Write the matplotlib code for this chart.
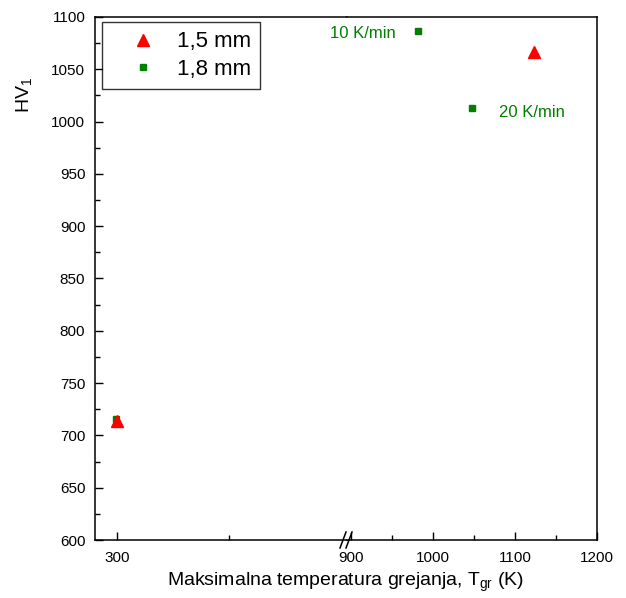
import matplotlib
matplotlib.use("Agg")
import matplotlib.pyplot as plt
from matplotlib.ticker import MultipleLocator, FixedLocator
from matplotlib.lines import Line2D

plt.rcParams['font.family'] = ['Liberation Sans', 'DejaVu Sans']

# Hardness HV1 vs. maximum heating temperature
temp_15 = [300, 1123]
hv_15 = [714, 1067]
temp_18 = [299, 982, 1048]
hv_18 = [716, 1087, 1013]
rate_labels = ["10 K/min", "20 K/min"]

W, H = 626, 598
fig = plt.figure(figsize=(W / 100, H / 100), dpi=100)

def fx(px):
    return px / W

def fy(py):
    return 1 - py / H

bottom, top = fy(540), fy(17)
ax_l = fig.add_axes([fx(95), bottom, fx(347) - fx(95), top - bottom])
ax_r = fig.add_axes([fx(347), bottom, fx(597) - fx(347), top - bottom])

red = '#ff0000'
green = '#007f00'

for ax in (ax_l, ax_r):
    ax.plot(temp_18, hv_18, ls='none', marker='s', ms=5, color=green,
            label='1,8 mm', zorder=3)
    ax.plot(temp_15, hv_15, ls='none', marker='^', ms=9, color=red,
            label='1,5 mm', zorder=4)
    ax.set_ylim(600, 1100)
    ax.tick_params(direction='in', which='major', length=6, width=1,
                   labelsize=11, top=False, right=False)
    ax.tick_params(direction='in', which='minor', length=3.5, width=1,
                   top=False, right=False)
    ax.tick_params(axis='x', which='major', pad=8)
    ax.tick_params(axis='y', which='major', pad=7)
    for s in ax.spines.values():
        s.set_linewidth(1.1)

ax_l.set_xlim(280.4, 505)
ax_r.set_xlim(895, 1200)

ax_l.xaxis.set_major_locator(FixedLocator([300]))
ax_l.xaxis.set_minor_locator(FixedLocator([400]))
ax_r.xaxis.set_major_locator(FixedLocator([900, 1000, 1100, 1200]))
ax_r.xaxis.set_minor_locator(FixedLocator([950, 1050, 1150]))

ax_l.yaxis.set_major_locator(MultipleLocator(50))
ax_l.yaxis.set_minor_locator(MultipleLocator(25))
ax_r.yaxis.set_major_locator(FixedLocator([]))
ax_r.yaxis.set_minor_locator(FixedLocator([]))

ax_l.spines['right'].set_visible(False)
ax_r.spines['left'].set_visible(False)

# Rate annotations next to the 1,8 mm points on the right panel
ax_r.annotate(rate_labels[0], (temp_18[1], hv_18[1]), xytext=(-16, -2),
              textcoords='offset points', ha='right', va='center',
              color=green, fontsize=12)
ax_r.annotate(rate_labels[1], (temp_18[2], hv_18[2]), xytext=(19, -3),
              textcoords='offset points', ha='left', va='center',
              color=green, fontsize=12)

# Axis break marks on the bottom spine
for dx in (-4, 2):
    x0 = fx(347 + dx)
    fig.add_artist(Line2D([x0 - fx(3), x0 + fx(3)], [fy(548), fy(532)],
                          color='black', lw=1.1))

handles = [ax_l.lines[1], ax_l.lines[0]]
leg = fig.legend(handles, ['1,5 mm', '1,8 mm'], loc='upper left',
                 bbox_to_anchor=(fx(102), fy(22)),
                 bbox_transform=fig.transFigure, borderaxespad=0,
                 fontsize=16, frameon=True, fancybox=False,
                 edgecolor='black', handletextpad=0.09, handlelength=2.85,
                 borderpad=0.42, labelspacing=0.3)
leg.get_frame().set_linewidth(1.0)

fig.text(fx(346), fy(582), 'Maksimalna temperatura grejanja, T$_{\\mathregular{gr}}$ (K)',
         ha='center', va='center', fontsize=14)
fig.text(fx(25), fy(95), 'HV$_{\\mathregular{1}}$', ha='center', va='center',
         rotation=90, fontsize=14)

fig.savefig('out.png', dpi=100)
